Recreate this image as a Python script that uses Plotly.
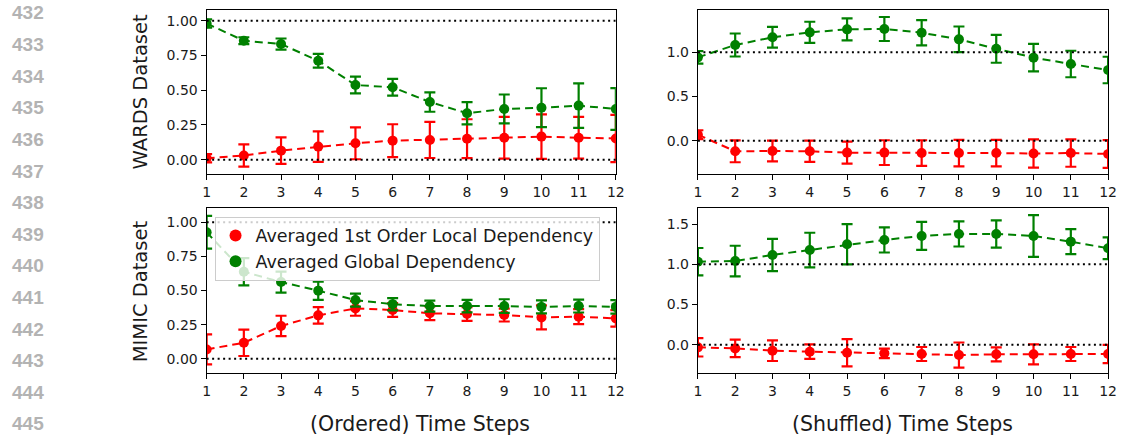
import plotly.graph_objects as go

W, H = 1127, 435

steps = list(range(1, 13))

# WARDS, ordered
wards_ord_local = [0.01, 0.03, 0.065, 0.094, 0.118, 0.137, 0.142, 0.151, 0.158, 0.166, 0.158, 0.153]
wards_ord_local_err = [0.03, 0.08, 0.095, 0.11, 0.115, 0.118, 0.13, 0.14, 0.15, 0.16, 0.15, 0.17]
wards_ord_global = [0.98, 0.856, 0.832, 0.712, 0.537, 0.521, 0.415, 0.334, 0.365, 0.374, 0.389, 0.365]
wards_ord_global_err = [0.03, 0.025, 0.04, 0.05, 0.06, 0.06, 0.07, 0.08, 0.104, 0.14, 0.16, 0.15]

# WARDS, shuffled
wards_shuf_local = [0.068, -0.12, -0.117, -0.12, -0.135, -0.135, -0.14, -0.14, -0.14, -0.145, -0.14, -0.15]
wards_shuf_local_err = [0.05, 0.124, 0.117, 0.12, 0.124, 0.14, 0.145, 0.15, 0.15, 0.16, 0.155, 0.157]
wards_shuf_global = [0.943, 1.083, 1.17, 1.226, 1.26, 1.264, 1.222, 1.147, 1.04, 0.94, 0.868, 0.80]
wards_shuf_global_err = [0.07, 0.13, 0.117, 0.12, 0.124, 0.136, 0.143, 0.145, 0.158, 0.156, 0.15, 0.15]

# MIMIC, ordered
mimic_ord_local = [0.068, 0.117, 0.24, 0.318, 0.369, 0.357, 0.333, 0.328, 0.32, 0.303, 0.308, 0.296]
mimic_ord_local_err = [0.11, 0.097, 0.075, 0.06, 0.054, 0.05, 0.05, 0.05, 0.047, 0.088, 0.055, 0.06]
mimic_ord_global = [0.927, 0.638, 0.562, 0.499, 0.43, 0.40, 0.386, 0.386, 0.386, 0.38, 0.386, 0.38]
mimic_ord_global_err = [0.12, 0.1, 0.077, 0.067, 0.048, 0.045, 0.04, 0.046, 0.05, 0.048, 0.047, 0.05]

# MIMIC, shuffled
mimic_shuf_local = [-0.033, -0.046, -0.075, -0.087, -0.1, -0.108, -0.116, -0.129, -0.12, -0.12, -0.116, -0.116]
mimic_shuf_local_err = [0.114, 0.108, 0.128, 0.09, 0.17, 0.06, 0.087, 0.156, 0.087, 0.124, 0.087, 0.114]
mimic_shuf_global = [1.033, 1.041, 1.116, 1.178, 1.249, 1.303, 1.353, 1.378, 1.378, 1.353, 1.282, 1.2]
mimic_shuf_global_err = [0.17, 0.19, 0.2, 0.215, 0.25, 0.156, 0.174, 0.156, 0.17, 0.26, 0.156, 0.135]

legend_names = ["Averaged 1st Order Local Dependency", "Averaged Global Dependency"]
row_titles = ["WARDS Dataset", "MIMIC Dataset"]
col_titles = ["(Ordered) Time Steps", "(Shuffled) Time Steps"]
line_numbers = list(range(432, 446))

RED = "#ff0000"
GREEN = "#008000"
FONT = "DejaVu Sans"
TXT = "#1a1a1a"

def px_x(p):
    return p / W

def px_y(p):
    return 1 - p / H

panels = [
    ("", (205, 619), (10, 174), [-0.103, 1.077], [0, 0.25, 0.5, 0.75, 1.0], ".2f",
     wards_ord_local, wards_ord_local_err, wards_ord_global, wards_ord_global_err),
    ("2", (702, 1117), (10, 174), [-0.377, 1.479], [0, 0.5, 1.0], ".1f",
     wards_shuf_local, wards_shuf_local_err, wards_shuf_global, wards_shuf_global_err),
    ("3", (205, 619), (208.3, 373.3), [-0.107, 1.103], [0, 0.25, 0.5, 0.75, 1.0], ".2f",
     mimic_ord_local, mimic_ord_local_err, mimic_ord_global, mimic_ord_global_err),
    ("4", (702, 1117), (208.3, 373.3), [-0.356, 1.697], [0, 0.5, 1.0, 1.5], ".1f",
     mimic_shuf_local, mimic_shuf_local_err, mimic_shuf_global, mimic_shuf_global_err),
]

fig = go.Figure()
layout = {}
shapes = []

for suf, xd, yd, yr, ytv, fmt, loc, loc_e, glo, glo_e in panels:
    xa = "x" + suf
    ya = "y" + suf
    for vals, errs, col in ((loc, loc_e, RED), (glo, glo_e, GREEN)):
        fig.add_trace(go.Scatter(
            x=steps, y=vals, xaxis=xa, yaxis=ya, mode="lines+markers",
            line=dict(color=col, width=2, dash="8px,5px"),
            marker=dict(color=col, size=10),
            error_y=dict(type="data", array=errs, visible=True, color=col,
                         thickness=2.2, width=5.5),
            showlegend=False, cliponaxis=True, hoverinfo="skip",
        ))
    axis_common = dict(showline=True, linecolor="black", linewidth=1.2, mirror=True,
                       ticks="outside", ticklen=5, tickwidth=1.2, tickcolor="black",
                       showgrid=False, zeroline=False,
                       tickfont=dict(family=FONT, size=14, color=TXT))
    layout["xaxis" + suf] = dict(domain=[px_x(xd[0]), px_x(xd[1])], range=[1, 12],
                                 tickvals=steps, anchor=ya, **axis_common)
    layout["yaxis" + suf] = dict(domain=[px_y(yd[1]), px_y(yd[0])], range=yr,
                                 tickvals=ytv, tickformat=fmt, anchor=xa, **axis_common)
    for yv in (0.0, 1.0):
        shapes.append(dict(type="line", xref=xa, yref=ya, x0=1, x1=12, y0=yv, y1=yv,
                           line=dict(color="black", width=2, dash="2px,3.5px")))

# legend-only traces (markers only)
for name, col in zip(legend_names, (RED, GREEN)):
    fig.add_trace(go.Scatter(x=[None], y=[None], xaxis="x3", yaxis="y3", mode="markers",
                             marker=dict(color=col, size=12), name=name, showlegend=True))

annotations = []
for i, t in enumerate(row_titles):
    yc = (10 + 174) / 2 if i == 0 else (208.3 + 373.3) / 2
    annotations.append(dict(text=t, x=px_x(138), y=px_y(yc), xref="paper", yref="paper",
                            textangle=-90, showarrow=False, xanchor="center", yanchor="middle",
                            font=dict(family=FONT, size=19.5, color=TXT)))
for i, t in enumerate(col_titles):
    xc = 421 if i == 0 else 909
    annotations.append(dict(text=t, x=px_x(xc), y=px_y(424), xref="paper", yref="paper",
                            showarrow=False, xanchor="center", yanchor="middle",
                            font=dict(family=FONT, size=20.5, color=TXT)))
for i, n in enumerate(line_numbers):
    annotations.append(dict(text="<b>%d</b>" % n, x=px_x(6), y=px_y(13 + 31.6 * i),
                            xref="paper", yref="paper", showarrow=False,
                            xanchor="left", yanchor="middle",
                            font=dict(family="Liberation Sans", size=19, color="#b3b3b3")))

fig.update_layout(
    width=W, height=H, margin=dict(l=0, r=0, t=0, b=0),
    paper_bgcolor="white", plot_bgcolor="white",
    shapes=shapes, annotations=annotations, hovermode=False,
    legend=dict(x=px_x(213), y=px_y(216.7), xanchor="left", yanchor="top",
                bgcolor="rgba(255,255,255,0.8)", bordercolor="#cccccc", borderwidth=1,
                font=dict(family=FONT, size=17.5, color=TXT), tracegroupgap=0,
                itemsizing="trace"),
    **layout,
)

fig.write_html(
    "out.html",
    config={"displayModeBar": False, "staticPlot": False},
    post_script="document.body.style.margin='0';document.body.style.padding='0';"
                "document.documentElement.style.overflow='hidden';",
)
